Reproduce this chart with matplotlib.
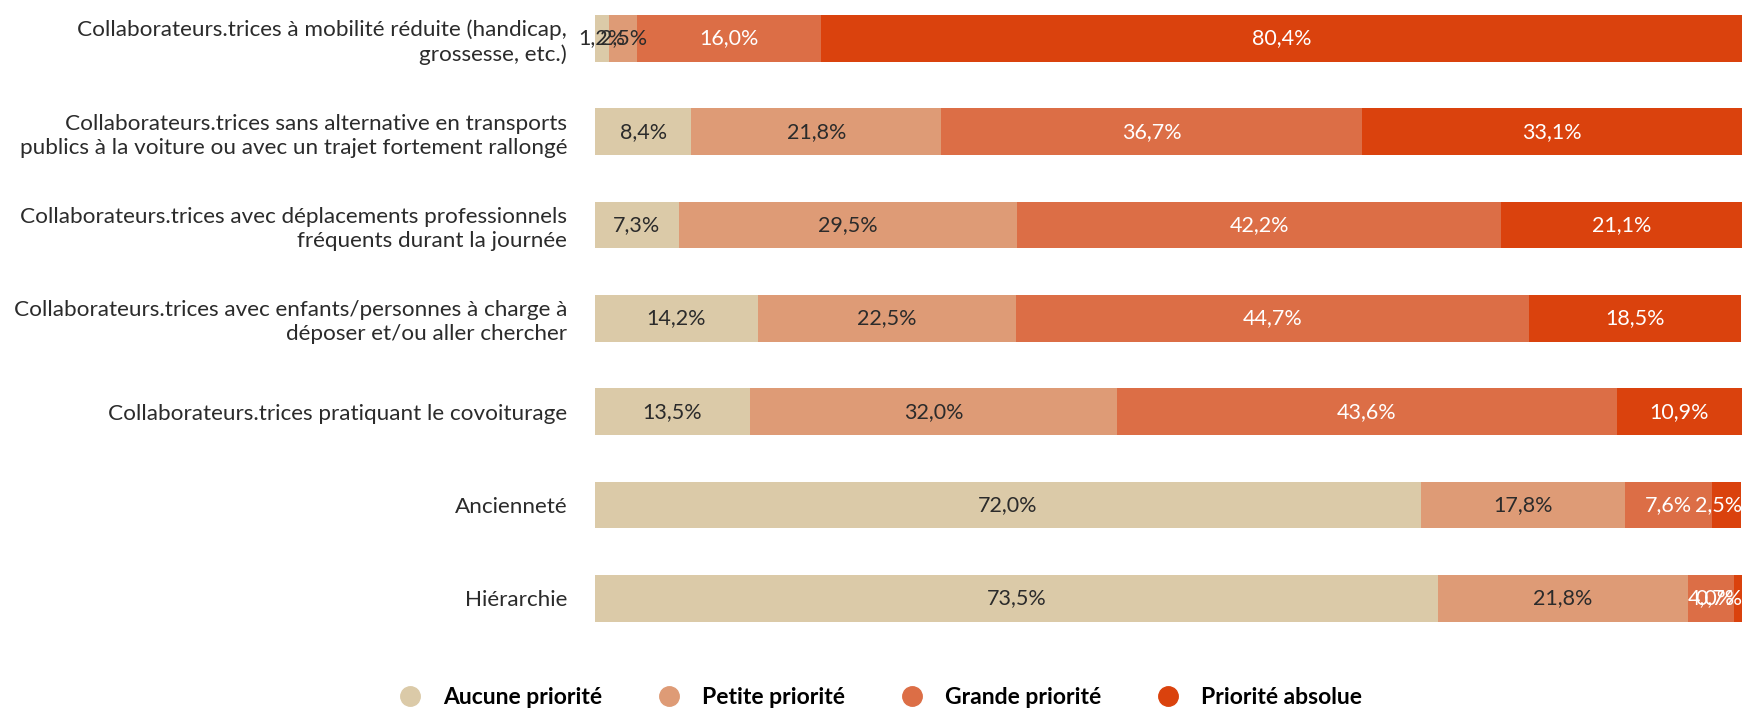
from matplotlib import pyplot as plt
from matplotlib.lines import Line2D
import numpy as np

plt.rcParams['font.family'] = ['Lato', 'DejaVu Sans']

categories = [
    "Collaborateurs.trices à mobilité réduite (handicap,\ngrossesse, etc.)",
    "Collaborateurs.trices sans alternative en transports\npublics à la voiture ou avec un trajet fortement rallongé",
    "Collaborateurs.trices avec déplacements professionnels\nfréquents durant la journée",
    "Collaborateurs.trices avec enfants/personnes à charge à\ndéposer et/ou aller chercher",
    "Collaborateurs.trices pratiquant le covoiturage",
    "Ancienneté",
    "Hiérarchie",
]
series_names = ["Aucune priorité", "Petite priorité", "Grande priorité", "Priorité absolue"]
aucune = [1.2, 8.4, 7.3, 14.2, 13.5, 72.0, 73.5]
petite = [2.5, 21.8, 29.5, 22.5, 32.0, 17.8, 21.8]
grande = [16.0, 36.7, 42.2, 44.7, 43.6, 7.6, 4.0]
absolue = [80.4, 33.1, 21.1, 18.5, 10.9, 2.5, 0.7]

colors = ["#dbcaa8", "#de9b76", "#dc6e46", "#da420d"]
text_colors = ["#2b2b2b", "#2b2b2b", "white", "white"]

fig = plt.figure(figsize=(17.42, 7.10), dpi=100)
ax = fig.add_axes([595 / 1742, 1 - 645 / 710, 1 - 595 / 1742, 653.4 / 710])

y = np.arange(len(categories))
left = np.zeros(len(categories))
for vals, name, col, tcol in zip([aucune, petite, grande, absolue], series_names, colors, text_colors):
    vals = np.array(vals)
    ax.barh(y, vals, left=left, height=0.5, color=col, label=name)
    for yi, l, v in zip(y, left, vals):
        xc, ha = l + v / 2, 'center'
        if xc > 98.5:  # keep the label inside the figure like in the original
            xc, ha = 100, 'right'
        ax.text(xc, yi, f"{v:.1f}".replace('.', ',') + '%', ha=ha, va='center',
                color=tcol, fontsize=15.5)
    left = left + vals

ax.set_xlim(0, 100)
ax.set_ylim(6.5, -0.5)
ax.set_yticks(y)
ax.set_yticklabels(categories, fontsize=16.2, color="#2b2b2b", linespacing=1.25)
ax.tick_params(axis='y', length=0, pad=20)
ax.set_xticks([])
for s in ax.spines.values():
    s.set_visible(False)

handles = [Line2D([], [], marker='o', linestyle='', markersize=14, color=c) for c in colors]
fig.legend(handles, series_names, loc='center', bbox_to_anchor=(0.502, 0.018), ncol=4,
           frameon=False, columnspacing=1.9, handletextpad=0.45,
           prop={'weight': 'bold', 'size': 16.5})

fig.savefig("out.png", dpi=100)
